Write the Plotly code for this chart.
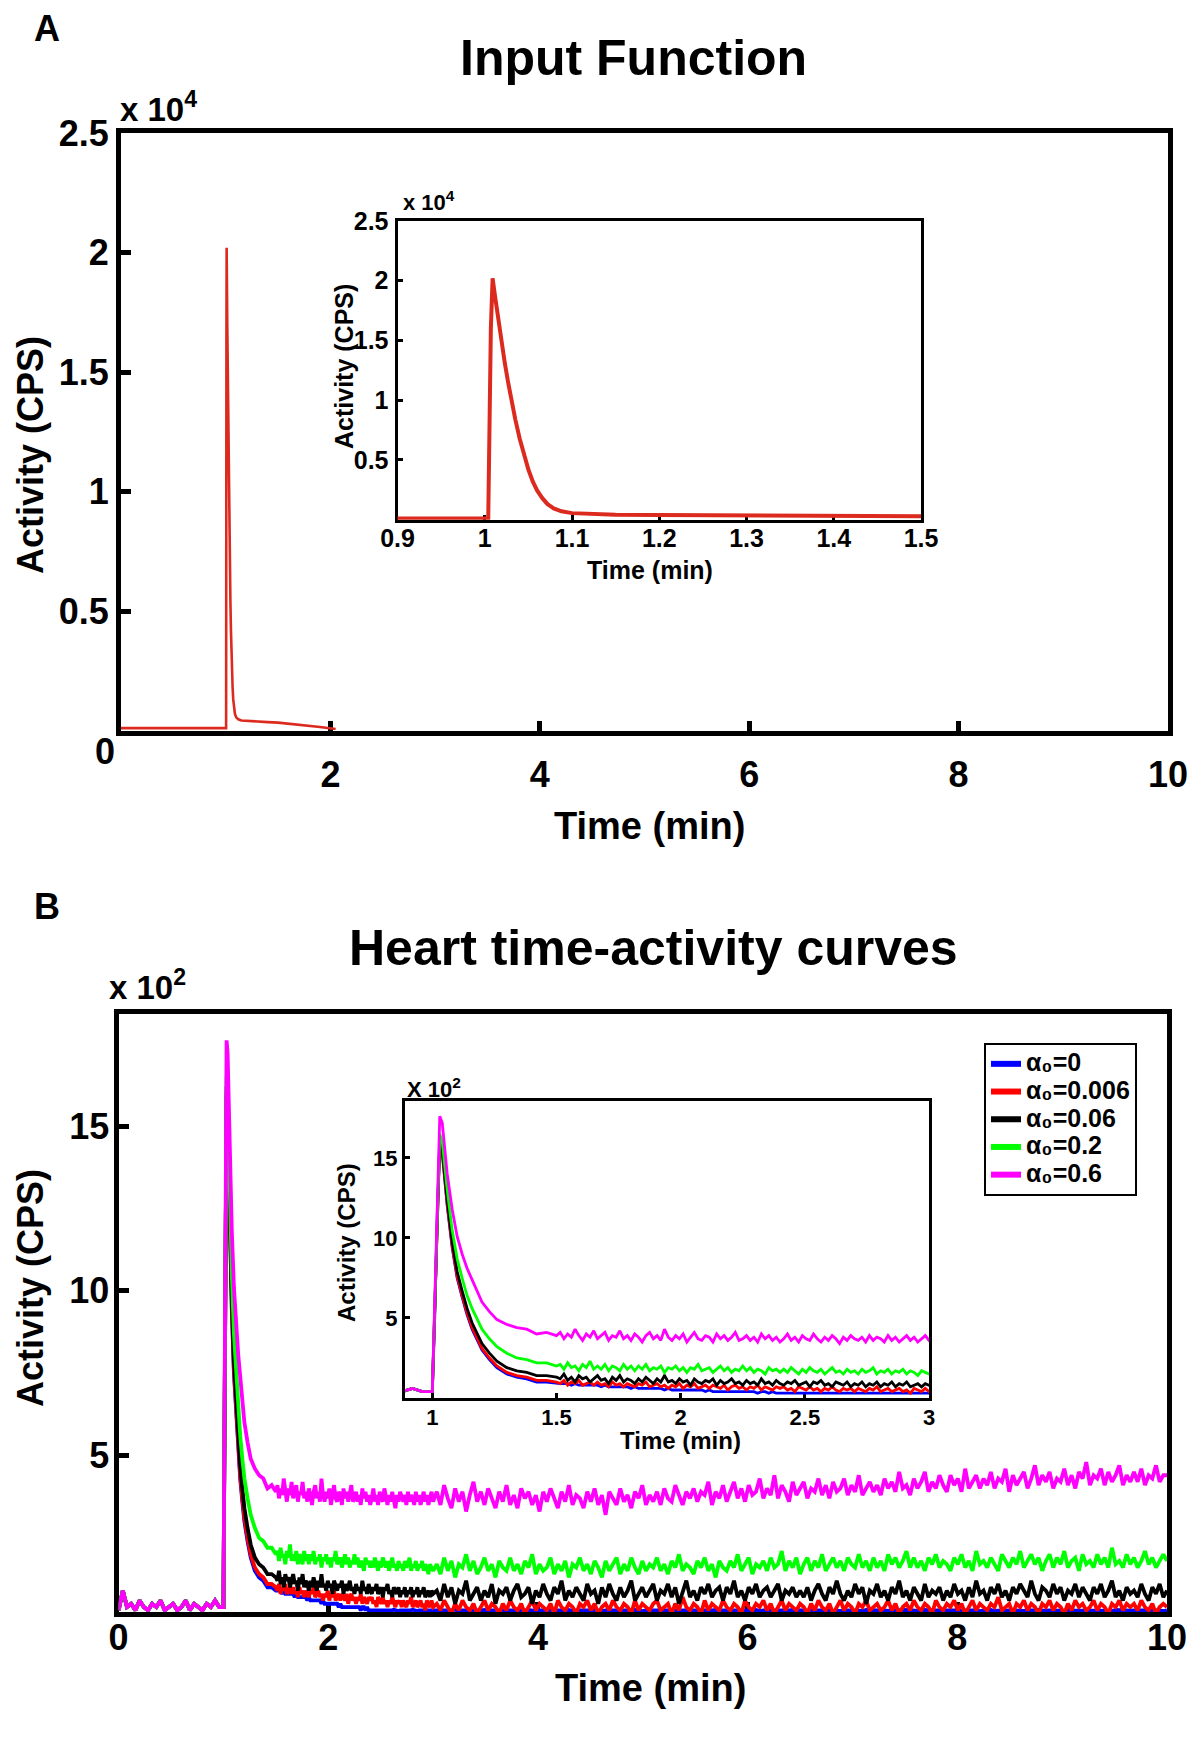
import plotly.graph_objects as go

# ---------------- DATA ----------------
# Panel A: input function (values in units of 1e4 CPS)
TA = [0.0, 0.5, 1.0, 1.004, 1.007, 1.009, 1.012, 1.015, 1.019, 1.023, 1.027, 1.031,
      1.035, 1.040, 1.045, 1.050, 1.055, 1.060, 1.066, 1.072, 1.079, 1.088, 1.100,
      1.120, 1.150, 1.2, 1.3, 1.4, 1.5, 1.7, 1.9, 2.05]
IA = [0.01, 0.01, 0.01, 0.01, 1.6, 2.02, 1.86, 1.70, 1.50, 1.31, 1.14, 0.98,
      0.84, 0.68, 0.54, 0.42, 0.32, 0.245, 0.18, 0.13, 0.095, 0.07, 0.055,
      0.047, 0.042, 0.04, 0.037, 0.035, 0.033, 0.025, 0.015, 0.006]

# Panel B: heart TACs (values in units of 1e2 CPS)
PRE_T = [0.00, 0.04, 0.08, 0.12, 0.16, 0.20, 0.24, 0.28, 0.32, 0.36, 0.40, 0.44, 0.48,
         0.52, 0.56, 0.60, 0.64, 0.68, 0.72, 0.76, 0.80, 0.84, 0.88, 0.92, 0.96]
PEAK_T = [1.00, 1.01, 1.02, 1.03, 1.04, 1.05, 1.06, 1.08, 1.10, 1.12, 1.14, 1.16,
          1.18, 1.20, 1.23, 1.26, 1.30, 1.34, 1.38, 1.42, 1.46, 1.50]
MID_T = [1.515, 1.53, 1.545, 1.56, 1.575, 1.59, 1.605, 1.62, 1.635, 1.65,
         1.665, 1.68, 1.695, 1.71, 1.725, 1.74, 1.755, 1.77, 1.785, 1.8,
         1.815, 1.83, 1.845, 1.86, 1.875, 1.89, 1.905, 1.92, 1.935, 1.95,
         1.965, 1.98, 1.995, 2.01, 2.025, 2.04, 2.055, 2.07, 2.085, 2.1,
         2.115, 2.13, 2.145, 2.16, 2.175, 2.19, 2.205, 2.22, 2.235, 2.25,
         2.265, 2.28, 2.295, 2.31, 2.325, 2.34, 2.355, 2.37, 2.385, 2.4,
         2.415, 2.43, 2.445, 2.46, 2.475, 2.49, 2.505, 2.52, 2.535, 2.55,
         2.565, 2.58, 2.595, 2.61, 2.625, 2.64, 2.655, 2.67, 2.685, 2.7,
         2.715, 2.73, 2.745, 2.76, 2.775, 2.79, 2.805, 2.82, 2.835, 2.85,
         2.865, 2.88, 2.895, 2.91, 2.925, 2.94, 2.955, 2.97, 2.985, 3.0]
LATE_T = [3.035, 3.07, 3.105, 3.14, 3.175, 3.21, 3.245, 3.28, 3.315, 3.35,
          3.385, 3.42, 3.455, 3.49, 3.525, 3.56, 3.595, 3.63, 3.665, 3.7,
          3.735, 3.77, 3.805, 3.84, 3.875, 3.91, 3.945, 3.98, 4.015, 4.05,
          4.085, 4.12, 4.155, 4.19, 4.225, 4.26, 4.295, 4.33, 4.365, 4.4,
          4.435, 4.47, 4.505, 4.54, 4.575, 4.61, 4.645, 4.68, 4.715, 4.75,
          4.785, 4.82, 4.855, 4.89, 4.925, 4.96, 4.995, 5.03, 5.065, 5.1,
          5.135, 5.17, 5.205, 5.24, 5.275, 5.31, 5.345, 5.38, 5.415, 5.45,
          5.485, 5.52, 5.555, 5.59, 5.625, 5.66, 5.695, 5.73, 5.765, 5.8,
          5.835, 5.87, 5.905, 5.94, 5.975, 6.01, 6.045, 6.08, 6.115, 6.15,
          6.185, 6.22, 6.255, 6.29, 6.325, 6.36, 6.395, 6.43, 6.465, 6.5,
          6.535, 6.57, 6.605, 6.64, 6.675, 6.71, 6.745, 6.78, 6.815, 6.85,
          6.885, 6.92, 6.955, 6.99, 7.025, 7.06, 7.095, 7.13, 7.165, 7.2,
          7.235, 7.27, 7.305, 7.34, 7.375, 7.41, 7.445, 7.48, 7.515, 7.55,
          7.585, 7.62, 7.655, 7.69, 7.725, 7.76, 7.795, 7.83, 7.865, 7.9,
          7.935, 7.97, 8.005, 8.04, 8.075, 8.11, 8.145, 8.18, 8.215, 8.25,
          8.285, 8.32, 8.355, 8.39, 8.425, 8.46, 8.495, 8.53, 8.565, 8.6,
          8.635, 8.67, 8.705, 8.74, 8.775, 8.81, 8.845, 8.88, 8.915, 8.95,
          8.985, 9.02, 9.055, 9.09, 9.125, 9.16, 9.195, 9.23, 9.265, 9.3,
          9.335, 9.37, 9.405, 9.44, 9.475, 9.51, 9.545, 9.58, 9.615, 9.65,
          9.685, 9.72, 9.755, 9.79, 9.825, 9.86, 9.895, 9.93, 9.965, 10.0]

PRE_V = [0.3, 0.9, 0.4, 0.5, 0.3, 0.6, 0.4, 0.3, 0.5, 0.4, 0.6, 0.3, 0.4,
         0.5, 0.3, 0.4, 0.6, 0.3, 0.5, 0.4, 0.3, 0.5, 0.4, 0.6, 0.4]

SERIES_NAMES = ["α₀=0", "α₀=0.006", "α₀=0.06", "α₀=0.2", "α₀=0.6"]
SERIES_COLORS = ["#0000ff", "#ff0000", "#000000", "#00ff00", "#ff00ff"]

BLUE_PEAK = [0.4, 5.2, 11.5, 15.9, 15.3, 13.7, 12.0, 9.4, 7.5, 6.3, 5.2, 4.3,
             3.6, 3.0, 2.4, 1.9, 1.5, 1.3, 1.2, 1.0, 1.0, 0.9]
BLUE_MID = [0.9, 0.9, 0.9, 0.8, 0.9, 0.8, 0.8, 0.8, 0.8, 0.8,
            0.8, 0.7, 0.8, 0.7, 0.7, 0.7, 0.7, 0.7, 0.7, 0.6,
            0.7, 0.6, 0.6, 0.6, 0.6, 0.6, 0.6, 0.6, 0.5, 0.6,
            0.5, 0.5, 0.5, 0.5, 0.5, 0.5, 0.5, 0.5, 0.5, 0.4,
            0.5, 0.4, 0.4, 0.4, 0.4, 0.4, 0.4, 0.4, 0.4, 0.4,
            0.4, 0.4, 0.4, 0.3, 0.4, 0.4, 0.3, 0.4, 0.3, 0.3,
            0.3, 0.3, 0.3, 0.3, 0.3, 0.3, 0.3, 0.3, 0.3, 0.3,
            0.3, 0.28, 0.3, 0.3, 0.32, 0.3, 0.3, 0.28, 0.3, 0.3,
            0.3, 0.3, 0.28, 0.3, 0.3, 0.3, 0.32, 0.3, 0.3, 0.28,
            0.3, 0.3, 0.3, 0.28, 0.3, 0.3, 0.3, 0.3, 0.28, 0.3]
BLUE_LATE = [0.3, 0.3, 0.28, 0.3, 0.3, 0.32, 0.28, 0.3, 0.3, 0.29,
             0.3, 0.28, 0.3, 0.31, 0.28, 0.3, 0.3, 0.28, 0.3, 0.3,
             0.29, 0.3, 0.3, 0.28, 0.3, 0.31, 0.3, 0.28, 0.3, 0.3,
             0.3, 0.28, 0.3, 0.3, 0.29, 0.3, 0.31, 0.28, 0.3, 0.3,
             0.28, 0.3, 0.3, 0.31, 0.3, 0.28, 0.3, 0.3, 0.29, 0.3,
             0.3, 0.28, 0.3, 0.3, 0.31, 0.3, 0.28, 0.3, 0.3, 0.29,
             0.3, 0.3, 0.28, 0.3, 0.31, 0.3, 0.28, 0.3, 0.3, 0.3,
             0.29, 0.3, 0.3, 0.28, 0.3, 0.3, 0.31, 0.28, 0.3, 0.3,
             0.3, 0.28, 0.3, 0.3, 0.29, 0.3, 0.3, 0.31, 0.28, 0.3,
             0.3, 0.3, 0.28, 0.3, 0.3, 0.29, 0.3, 0.31, 0.3, 0.3,
             0.3, 0.29, 0.3, 0.28, 0.3, 0.3, 0.31, 0.3, 0.28, 0.3,
             0.28, 0.3, 0.3, 0.3, 0.29, 0.3, 0.28, 0.31, 0.3, 0.3,
             0.3, 0.3, 0.29, 0.3, 0.28, 0.3, 0.3, 0.3, 0.31, 0.28,
             0.3, 0.28, 0.3, 0.31, 0.3, 0.29, 0.3, 0.3, 0.28, 0.3,
             0.29, 0.3, 0.3, 0.28, 0.3, 0.31, 0.3, 0.3, 0.28, 0.3,
             0.3, 0.31, 0.28, 0.3, 0.3, 0.29, 0.3, 0.28, 0.3, 0.3,
             0.28, 0.3, 0.3, 0.3, 0.31, 0.29, 0.3, 0.3, 0.28, 0.3,
             0.3, 0.28, 0.31, 0.3, 0.3, 0.3, 0.29, 0.3, 0.3, 0.28,
             0.3, 0.3, 0.29, 0.3, 0.28, 0.31, 0.3, 0.3, 0.3, 0.29,
             0.3, 0.28, 0.3, 0.3, 0.31, 0.3, 0.29, 0.3, 0.28, 0.3]

RED_PEAK = [0.4, 5.3, 11.6, 16.0, 15.4, 13.8, 12.1, 9.5, 7.6, 6.4, 5.3, 4.4,
            3.7, 3.1, 2.5, 2.0, 1.6, 1.4, 1.3, 1.1, 1.1, 1.0]
RED_MID = [0.9, 1.1, 0.8, 1.0, 0.9, 1.1, 0.8, 0.9, 1.0, 0.8,
           1.0, 0.8, 0.9, 0.7, 1.0, 0.8, 0.9, 0.7, 0.9, 0.8,
           0.7, 0.9, 0.8, 1.0, 0.7, 0.8, 0.9, 0.7, 0.8, 0.6,
           0.8, 0.7, 0.9, 0.6, 0.8, 0.7, 0.9, 0.6, 0.7, 0.8,
           0.6, 0.8, 0.7, 0.6, 0.8, 0.5, 0.7, 0.8, 0.6, 0.7,
           0.5, 0.7, 0.6, 0.8, 0.5, 0.7, 0.6, 0.5, 0.7, 0.6,
           0.7, 0.5, 0.6, 0.4, 0.7, 0.6, 0.5, 0.7, 0.5, 0.6,
           0.4, 0.6, 0.5, 0.7, 0.5, 0.4, 0.6, 0.5, 0.6, 0.4,
           0.6, 0.5, 0.4, 0.6, 0.5, 0.7, 0.4, 0.5, 0.6, 0.4,
           0.5, 0.6, 0.4, 0.5, 0.3, 0.6, 0.5, 0.4, 0.6, 0.4]
RED_LATE = [0.5, 0.3, 0.6, 0.4, 0.2, 0.5, 0.3, 0.6, 0.4, 0.3,
            0.5, 0.2, 0.4, 0.6, 0.3, 0.5, 0.4, 0.2, 0.5, 0.3,
            0.6, 0.4, 0.3, 0.5, 0.2, 0.4, 0.6, 0.3, 0.5, 0.4,
            0.3, 0.5, 0.2, 0.6, 0.4, 0.3, 0.5, 0.4, 0.2, 0.5,
            0.4, 0.6, 0.3, 0.5, 0.2, 0.4, 0.5, 0.3, 0.6, 0.4,
            0.3, 0.5, 0.4, 0.2, 0.6, 0.3, 0.5, 0.4, 0.3, 0.5,
            0.6, 0.3, 0.4, 0.5, 0.2, 0.5, 0.3, 0.7, 0.4, 0.3,
            0.5, 0.4, 0.2, 0.6, 0.3, 0.5, 0.4, 0.3, 0.6, 0.4,
            0.3, 0.5, 0.4, 0.2, 0.6, 0.4, 0.3, 0.5, 0.4, 0.6,
            0.3, 0.5, 0.2, 0.4, 0.6, 0.3, 0.5, 0.4, 0.3, 0.5,
            0.4, 0.2, 0.5, 0.3, 0.6, 0.4, 0.3, 0.5, 0.2, 0.4,
            0.6, 0.3, 0.5, 0.4, 0.2, 0.5, 0.4, 0.6, 0.3, 0.4,
            0.5, 0.3, 0.4, 0.6, 0.3, 0.5, 0.2, 0.4, 0.5, 0.3,
            0.6, 0.4, 0.3, 0.5, 0.4, 0.2, 0.6, 0.4, 0.3, 0.5,
            0.4, 0.6, 0.3, 0.5, 0.2, 0.4, 0.6, 0.3, 0.5, 0.4,
            0.3, 0.5, 0.4, 0.7, 0.3, 0.4, 0.5, 0.2, 0.5, 0.4,
            0.6, 0.3, 0.5, 0.4, 0.2, 0.5, 0.4, 0.6, 0.3, 0.5,
            0.4, 0.2, 0.5, 0.3, 0.6, 0.4, 0.5, 0.3, 0.4, 0.6,
            0.3, 0.5, 0.4, 0.2, 0.5, 0.4, 0.6, 0.3, 0.5, 0.4,
            0.5, 0.3, 0.6, 0.4, 0.3, 0.5, 0.2, 0.4, 0.5, 0.4]

BLACK_PEAK = [0.4, 5.4, 11.8, 16.2, 15.6, 14.0, 12.4, 9.8, 7.9, 6.7, 5.6, 4.7,
              4.0, 3.4, 2.8, 2.3, 1.9, 1.7, 1.6, 1.4, 1.4, 1.3]
BLACK_MID = [1.2, 1.5, 1.1, 1.3, 1.0, 1.4, 1.2, 1.3, 1.0, 1.2,
             1.4, 1.1, 1.2, 0.9, 1.3, 1.1, 1.4, 1.0, 1.2, 1.1,
             0.9, 1.2, 1.0, 1.3, 1.1, 0.9, 1.2, 1.0, 1.4, 1.0,
             1.1, 0.9, 1.2, 1.0, 1.1, 0.8, 1.2, 1.0, 0.9, 1.1,
             1.0, 1.2, 0.8, 1.1, 0.9, 1.0, 1.2, 0.9, 1.0, 0.8,
             1.1, 0.9, 1.0, 0.8, 1.2, 0.9, 1.0, 0.8, 1.1, 0.9,
             0.8, 1.0, 0.9, 1.1, 0.8, 0.9, 1.0, 0.7, 1.0, 0.9,
             1.1, 0.8, 0.9, 0.7, 1.0, 0.9, 0.8, 1.0, 0.7, 0.9,
             0.8, 1.0, 0.7, 0.9, 0.8, 1.0, 0.7, 0.9, 0.8, 1.0,
             0.7, 0.9, 0.8, 1.0, 0.7, 0.8, 0.9, 0.7, 0.9, 0.8]
BLACK_LATE = [0.9, 0.6, 1.1, 0.7, 1.0, 0.5, 0.9, 0.8, 1.2, 0.6,
              0.8, 1.0, 0.6, 0.9, 0.7, 1.1, 0.5, 0.9, 0.8, 1.0,
              0.6, 0.9, 1.1, 0.7, 0.8, 1.0, 0.5, 0.9, 0.7, 1.1,
              0.8, 0.6, 1.0, 0.8, 1.2, 0.6, 0.9, 0.7, 1.0, 0.8,
              0.6, 1.1, 0.8, 0.9, 0.5, 1.0, 0.7, 1.1, 0.8, 0.6,
              1.0, 0.7, 0.9, 1.2, 0.6, 0.8, 1.0, 0.7, 0.9, 1.1,
              0.6, 0.9, 0.8, 1.1, 0.7, 1.0, 0.5, 0.9, 1.2, 0.7,
              0.9, 0.6, 1.0, 0.8, 1.1, 0.7, 0.9, 1.0, 0.6, 1.0,
              0.8, 1.2, 0.7, 0.9, 0.6, 1.0, 0.8, 1.1, 0.7, 0.9,
              1.0, 0.7, 0.9, 1.1, 0.6, 0.9, 0.8, 1.0, 0.7, 0.9,
              0.7, 1.0, 0.6, 0.9, 1.1, 0.8, 0.6, 1.0, 0.8, 1.2,
              0.8, 0.6, 0.9, 0.7, 1.1, 0.8, 1.0, 0.5, 0.9, 0.8,
              1.1, 0.7, 0.9, 0.6, 1.0, 0.8, 1.2, 0.7, 0.9, 0.6,
              1.0, 0.8, 0.6, 1.1, 0.7, 0.9, 0.8, 1.0, 0.6, 0.9,
              0.7, 1.1, 0.8, 0.9, 0.6, 1.0, 0.7, 1.2, 0.8, 0.9,
              0.6, 1.0, 0.8, 1.1, 0.7, 0.9, 0.6, 1.0, 0.8, 1.1,
              0.9, 0.7, 1.2, 0.8, 0.6, 1.0, 0.9, 0.7, 1.1, 0.8,
              1.0, 0.6, 0.9, 0.8, 1.1, 0.7, 1.0, 0.8, 0.6, 1.0,
              0.8, 1.1, 0.7, 0.9, 1.2, 0.7, 0.9, 0.6, 1.0, 0.8,
              0.9, 0.7, 1.1, 0.8, 0.6, 1.0, 0.8, 1.1, 0.7, 0.9]

GREEN_PEAK = [0.4, 5.5, 12.0, 16.5, 16.0, 14.5, 13.0, 10.5, 8.7, 7.5, 6.4, 5.6,
              4.9, 4.3, 3.7, 3.2, 2.8, 2.5, 2.4, 2.2, 2.2, 2.0]
GREEN_MID = [2.1, 1.8, 2.2, 1.9, 2.0, 1.7, 2.1, 1.9, 2.3, 1.8,
             2.0, 1.8, 2.1, 1.7, 2.0, 1.9, 1.7, 2.1, 1.8, 2.0,
             1.7, 2.0, 1.8, 2.1, 1.7, 1.9, 1.8, 2.0, 1.6, 1.9,
             1.8, 2.0, 1.7, 1.9, 1.6, 1.9, 1.8, 2.1, 1.7, 1.8,
             1.9, 1.6, 1.8, 2.0, 1.7, 1.9, 1.6, 1.8, 1.7, 2.0,
             1.7, 1.9, 1.6, 1.8, 1.7, 1.5, 1.9, 1.7, 1.8, 1.6,
             1.8, 1.6, 1.9, 1.7, 1.5, 1.8, 1.6, 1.9, 1.7, 1.6,
             1.8, 1.5, 1.7, 1.9, 1.6, 1.7, 1.5, 1.8, 1.6, 1.7,
             1.5, 1.8, 1.6, 1.7, 1.9, 1.5, 1.7, 1.6, 1.8, 1.5,
             1.7, 1.6, 1.8, 1.5, 1.7, 1.6, 1.4, 1.7, 1.6, 1.5]
GREEN_LATE = [1.7, 1.4, 1.9, 1.5, 1.8, 1.3, 1.7, 1.6, 2.0, 1.5,
              1.8, 1.4, 1.6, 1.9, 1.5, 1.7, 1.3, 1.8, 1.6, 1.5,
              1.9, 1.5, 1.7, 1.4, 1.8, 1.6, 2.0, 1.4, 1.7, 1.5,
              1.6, 1.9, 1.4, 1.7, 1.5, 1.8, 1.3, 1.7, 1.6, 1.9,
              1.5, 1.7, 1.4, 1.8, 1.6, 1.3, 1.8, 1.5, 1.7, 1.9,
              1.4, 1.7, 1.5, 1.9, 1.6, 1.4, 1.8, 1.5, 1.7, 1.6,
              1.9, 1.5, 1.7, 1.4, 1.8, 1.6, 2.0, 1.5, 1.7, 1.6,
              1.4, 1.8, 1.6, 1.9, 1.5, 1.7, 1.3, 1.8, 1.6, 1.5,
              1.8, 1.6, 2.0, 1.5, 1.7, 1.9, 1.4, 1.7, 1.6, 1.8,
              1.5, 1.9, 1.6, 1.7, 2.1, 1.5, 1.8, 1.6, 1.9, 1.4,
              1.7, 1.9, 1.5, 1.8, 1.6, 2.0, 1.5, 1.7, 1.9, 1.6,
              1.8, 1.5, 1.9, 1.7, 1.6, 2.0, 1.6, 1.8, 1.5, 1.9,
              1.6, 1.8, 1.5, 2.0, 1.7, 1.9, 1.6, 1.8, 2.1, 1.6,
              1.9, 1.6, 1.8, 1.5, 1.9, 1.7, 2.0, 1.6, 1.8, 1.7,
              1.5, 1.9, 1.7, 2.0, 1.6, 1.8, 1.5, 2.1, 1.7, 1.8,
              1.6, 1.9, 1.7, 1.5, 2.0, 1.8, 1.6, 1.9, 1.7, 2.1,
              1.6, 1.8, 2.0, 1.7, 1.9, 1.5, 1.8, 2.0, 1.6, 1.9,
              1.7, 2.1, 1.6, 1.8, 1.9, 1.5, 2.0, 1.7, 1.8, 1.6,
              2.0, 1.7, 1.9, 1.6, 2.2, 1.7, 1.8, 1.6, 2.0, 1.7,
              1.9, 1.6, 1.8, 2.1, 1.7, 1.9, 1.6, 1.8, 2.0, 1.8]

MAG_PEAK = [0.4, 6.0, 13.0, 17.6, 17.2, 15.6, 14.0, 11.8, 10.1, 9.0, 8.1, 7.4,
            6.7, 6.0, 5.4, 4.9, 4.6, 4.4, 4.3, 4.0, 4.1, 3.9]
MAG_MID = [4.1, 3.7, 4.0, 3.8, 4.3, 3.9, 3.6, 4.0, 3.8, 4.2,
           3.7, 3.9, 4.1, 3.6, 3.9, 3.8, 4.2, 3.7, 3.9, 3.6,
           4.0, 3.8, 3.5, 3.9, 4.1, 3.7, 3.9, 3.6, 4.3, 3.8,
           3.6, 3.9, 3.7, 4.0, 3.5, 3.8, 4.1, 3.7, 3.6, 3.9,
           3.8, 3.5, 4.0, 3.7, 3.9, 3.6, 3.8, 4.1, 3.6, 3.7,
           3.9, 3.6, 3.8, 3.5, 4.0, 3.7, 3.9, 3.6, 3.8, 3.5,
           3.7, 4.0, 3.6, 3.8, 3.5, 3.9, 3.7, 3.6, 4.0, 3.7,
           3.5, 3.8, 3.6, 3.9, 3.7, 3.4, 3.8, 3.6, 3.9, 3.7,
           3.6, 3.8, 3.5, 3.9, 3.6, 3.8, 3.7, 3.5, 3.9, 3.6,
           3.8, 3.5, 3.7, 3.9, 3.6, 3.8, 3.5, 3.7, 3.9, 3.6]
MAG_LATE = [3.9, 3.5, 4.1, 3.7, 3.4, 4.0, 3.6, 3.9, 3.3, 3.8,
            4.2, 3.6, 3.9, 3.5, 4.0, 3.7, 3.4, 3.9, 3.6, 4.1,
            3.5, 3.8, 3.4, 4.0, 3.7, 3.9, 3.5, 3.8, 3.3, 3.9,
            3.6, 4.0, 3.7, 3.4, 3.9, 3.6, 4.1, 3.5, 3.8, 3.7,
            3.4, 3.9, 3.6, 4.0, 3.5, 3.8, 3.2, 3.9, 3.7, 3.5,
            4.0, 3.6, 3.8, 3.4, 3.9, 3.7, 4.1, 3.5, 3.8, 3.6,
            3.9, 3.5, 4.0, 3.7, 3.6, 4.1, 3.8, 3.5, 3.9, 3.7,
            4.0, 3.6, 3.9, 3.8, 4.2, 3.5, 3.9, 3.7, 4.1, 3.6,
            3.9, 4.2, 3.7, 4.0, 3.6, 4.1, 3.8, 3.9, 4.3, 3.7,
            4.0, 3.8, 4.4, 3.7, 4.1, 3.9, 3.6, 4.2, 3.8, 4.0,
            4.2, 3.7, 4.0, 3.9, 4.3, 3.8, 4.1, 3.7, 4.2, 3.9,
            4.0, 4.3, 3.8, 4.1, 3.9, 4.4, 3.8, 4.0, 4.2, 3.9,
            4.1, 3.8, 4.3, 4.0, 4.2, 3.9, 4.5, 4.0, 4.1, 3.8,
            4.3, 4.0, 4.2, 4.5, 3.9, 4.2, 4.0, 4.4, 4.1, 3.9,
            4.4, 4.1, 4.3, 3.9, 4.6, 4.0, 4.2, 4.4, 4.0, 4.3,
            4.1, 4.5, 4.0, 4.3, 4.2, 4.6, 3.9, 4.4, 4.1, 4.3,
            4.5, 4.0, 4.3, 4.7, 4.1, 4.4, 4.2, 4.5, 4.0, 4.3,
            4.2, 4.6, 4.1, 4.4, 4.0, 4.5, 4.3, 4.8, 4.1, 4.4,
            4.3, 4.6, 4.1, 4.5, 4.2, 4.4, 4.7, 4.1, 4.4, 4.2,
            4.5, 4.2, 4.6, 4.1, 4.4, 4.3, 4.7, 4.2, 4.4, 4.4]

TB = PRE_T + PEAK_T + MID_T + LATE_T
SERIES_VALUES = [
    PRE_V + BLUE_PEAK + BLUE_MID + BLUE_LATE,
    PRE_V + RED_PEAK + RED_MID + RED_LATE,
    PRE_V + BLACK_PEAK + BLACK_MID + BLACK_LATE,
    PRE_V + GREEN_PEAK + GREEN_MID + GREEN_LATE,
    PRE_V + MAG_PEAK + MAG_MID + MAG_LATE,
]

# ---------------- LAYOUT HELPERS ----------------
W, H = 1200, 1742
OFF = 8  # page body margin
FONT = "Liberation Sans, Arial, sans-serif"


def px(xp):
    return (xp - OFF) / W


def py(yp):
    return 1 - (yp - OFF) / H


def axis(dom, rng, vals, texts, size, lw, anchor, tlen, twid, standoff=0):
    return dict(domain=dom, range=rng, tickvals=vals, ticktext=texts,
                ticks="inside", ticklen=tlen, tickwidth=twid, tickcolor="black",
                showline=True, linecolor="black", linewidth=lw, mirror=True,
                showgrid=False, zeroline=False, anchor=anchor, layer="below traces",
                ticklabelstandoff=standoff, fixedrange=True, automargin=False,
                tickfont=dict(family=FONT, size=size, color="black", weight="bold"))


fig = go.Figure()

# Panel A main + inset
fig.add_trace(go.Scatter(x=TA, y=IA, mode="lines", line=dict(color="#dc2a1e", width=2.6),
                         xaxis="x", yaxis="y", showlegend=False, hoverinfo="skip"))
fig.add_trace(go.Scatter(x=TA, y=IA, mode="lines", line=dict(color="#dc2a1e", width=4),
                         xaxis="x2", yaxis="y2", showlegend=False, hoverinfo="skip"))

# Panel B main and inset
for col, vals in zip(SERIES_COLORS, SERIES_VALUES):
    fig.add_trace(go.Scatter(x=TB, y=vals, mode="lines", line=dict(color=col, width=3.8),
                             xaxis="x3", yaxis="y3", showlegend=False, hoverinfo="skip"))
for col, vals in zip(SERIES_COLORS, SERIES_VALUES):
    fig.add_trace(go.Scatter(x=TB, y=vals, mode="lines", line=dict(color=col, width=2.8),
                             xaxis="x4", yaxis="y4", showlegend=False, hoverinfo="skip"))
# legend entries
for name, col in zip(SERIES_NAMES, SERIES_COLORS):
    fig.add_trace(go.Scatter(x=[None], y=[None], mode="lines",
                             name="<span style='font-size:25px'>" + name + "</span>",
                             line=dict(color=col, width=6), xaxis="x3", yaxis="y3"))

fig.update_layout(
    width=W, height=H, margin=dict(l=0, r=0, t=0, b=0, pad=0, autoexpand=False),
    paper_bgcolor="white", plot_bgcolor="white", hovermode=False,
    xaxis=axis([px(121), px(1168)], [0, 10], [2, 4, 6, 8, 10], ["2", "4", "6", "8", "10"],
               36, 5, "y", 10, 5, standoff=8),
    yaxis=axis([py(730.5), py(133)], [0, 2.5], [0.5, 1, 1.5, 2, 2.5],
               ["0.5", "1", "1.5", "2", "2.5"], 36, 5, "x", 10, 5, standoff=0),
    xaxis2=axis([px(397.5), px(921)], [0.9, 1.5], [0.9, 1.0, 1.1, 1.2, 1.3, 1.4, 1.5],
                ["0.9", "1", "1.1", "1.2", "1.3", "1.4", "1.5"], 25, 3, "y2", 5, 3,
                standoff=-6),
    yaxis2=axis([py(519.7), py(221)], [0, 2.5], [0.5, 1, 1.5, 2, 2.5],
                ["0.5", "1", "1.5", "2", "2.5"], 25, 3, "x2", 5, 3, standoff=1),
    xaxis3=axis([px(118.6), px(1167)], [0, 10], [0, 2, 4, 6, 8, 10],
                ["0", "2", "4", "6", "8", "10"], 36, 5, "y3", 10, 5, standoff=-10),
    yaxis3=axis([py(1612), py(1014)], [0.25, 18.4], [5, 10, 15], ["5", "10", "15"],
                36, 5, "x3", 10, 5, standoff=-3),
    xaxis4=axis([px(405), px(929)], [0.89, 3], [1, 1.5, 2, 2.5, 3],
                ["1", "1.5", "2", "2.5", "3"], 22, 3, "y4", 5, 3, standoff=-2),
    yaxis4=axis([py(1398), py(1101)], [0, 18.56], [5, 10, 15], ["5", "10", "15"],
                22, 3, "x4", 5, 3, standoff=0),
    legend=dict(x=px(984), y=py(1043), xanchor="left", yanchor="top",
                bgcolor="white", bordercolor="black", borderwidth=2,
                font=dict(family=FONT, size=19, color="black", weight="bold"),
                itemwidth=30, tracegroupgap=0),
)


def ann(text, x, y, size, xa="center", ya="middle", angle=0):
    fig.add_annotation(text=text, x=px(x), y=py(y), xref="paper", yref="paper",
                       showarrow=False, xanchor=xa, yanchor=ya, textangle=angle,
                       font=dict(family=FONT, size=size, color="black", weight="bold"))


# Panel A texts
ann("A", 47, 28, 36)
ann("Input Function", 634, 58, 50)
ann("x 10<sup>4</sup>", 118, 130, 33, xa="left", ya="bottom")
ann("0", 105, 752, 36)
ann("Activity (CPS)", 30, 455, 36, angle=-90)
ann("Time (min)", 649, 826, 38)
ann("x 10<sup>4</sup>", 401, 217, 22, xa="left", ya="bottom")
ann("Activity (CPS)", 344, 367, 25, angle=-90)
ann("Time (min)", 650, 570, 25)

# Panel B texts
ann("B", 47, 906, 36)
ann("Heart time-activity curves", 653, 948, 50)
ann("x 10<sup>2</sup>", 107, 1008, 33, xa="left", ya="bottom")
ann("Activity (CPS)", 30, 1288, 36, angle=-90)
ann("Time (min)", 650, 1688, 38)
ann("X 10<sup>2</sup>", 405, 1104, 22, xa="left", ya="bottom")
ann("Activity (CPS)", 346, 1243, 24, angle=-90)
ann("Time (min)", 680, 1440, 24)

fig.write_html("out.html", config={"displayModeBar": False})
